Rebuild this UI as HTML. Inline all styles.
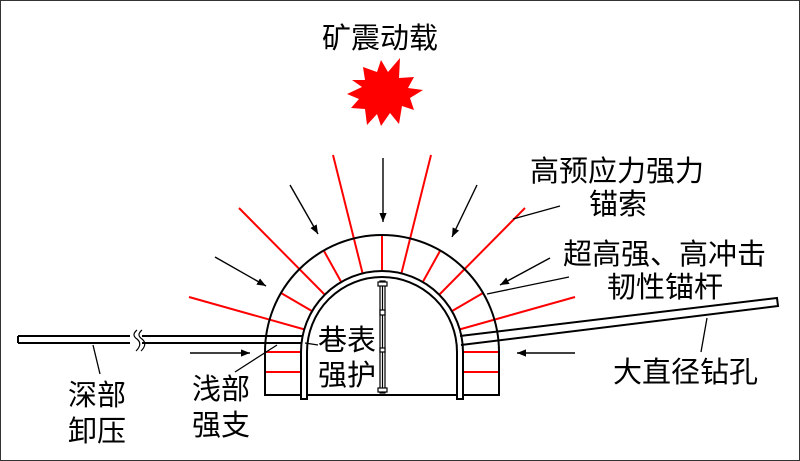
<!DOCTYPE html>
<html><head><meta charset="utf-8"><style>
html,body{margin:0;padding:0;background:#fff}
svg{display:block}
text{font-family:"Liberation Sans","Noto Sans CJK SC",sans-serif;fill:#000}
</style></head><body>
<svg width="800" height="461" viewBox="0 0 800 461" xmlns="http://www.w3.org/2000/svg">
<defs>
<marker id="a" viewBox="0 0 10 10" refX="10" refY="5" markerWidth="9" markerHeight="9" orient="auto" markerUnits="userSpaceOnUse">
<path d="M0,1 L10,5 L0,9 Z" fill="#000"/></marker>
</defs>
<rect x="0.5" y="0.5" width="799" height="460" fill="#fff" stroke="#333" stroke-width="1"/>
<text x="380" y="48" font-size="29" text-anchor="middle">矿震动载</text>
<polygon fill="#f00" points="363,67 377,72 381,60 388,72 400,58 399,78 414,77 408,88 423,90 410,98 414,110 402,106 399,124 390,113 381,126 377,114 367,125 365,109 351,108 359,99 347,94 362,87 352,80 365,80" />
<g stroke="#f00" stroke-width="2">
<line x1="382" y1="277" x2="382" y2="235"/>
<line x1="344" y1="287" x2="324" y2="251"/>
<line x1="420" y1="287" x2="440" y2="251"/>
<line x1="317" y1="314" x2="281" y2="293"/>
<line x1="447" y1="314" x2="483" y2="293"/>
<line x1="364" y1="279" x2="333" y2="155"/>
<line x1="400" y1="279" x2="431" y2="155"/>
<line x1="329" y1="299" x2="239" y2="208"/>
<line x1="435" y1="299" x2="525" y2="208"/>
<line x1="310" y1="331" x2="189" y2="297"/>
<line x1="454" y1="331" x2="575" y2="297"/>
<line x1="265" y1="352" x2="302" y2="352"/>
<line x1="265" y1="372" x2="302" y2="372"/>
<line x1="462" y1="352" x2="499" y2="352"/>
<line x1="462" y1="372" x2="499" y2="372"/>
</g>
<g fill="none" stroke="#000" stroke-width="2">
<path d="M265,395 L265,352 A117,117 0 0 1 499,352 L499,395 Z"/>
<path d="M301,399 L301,352 A81,81 0 0 1 463,352 L463,399 L457,399 L457,352 A75,75 0 0 0 307,352 L307,399 Z" fill="#fff"/>
<path d="M18,336 L303,336 M18,343 L302,343 M18,336 L18,343"/>
<path d="M460,336 L777,298 L778,306 L461,345"/>
</g>
<rect x="130" y="334" width="12" height="11" fill="#fff"/>
<path d="M137,330 q-6,5 0,9 q6,5 -1,12 M142,330 q-6,5 0,9 q6,5 -1,12" fill="none" stroke="#000" stroke-width="1.2"/>
<g stroke="#000" fill="#fff" stroke-width="1.2">
<rect x="380" y="281" width="5" height="112"/>
<line x1="382.5" y1="281" x2="382.5" y2="393"/>
<rect x="378" y="282" width="9" height="4"/>
<rect x="378" y="388" width="9" height="4"/>
<rect x="380" y="310" width="5" height="5"/>
<rect x="380" y="348" width="5" height="4"/>
</g>
<g stroke="#000" stroke-width="1.4" marker-end="url(#a)">
<line x1="383" y1="158" x2="383" y2="222"/>
<line x1="290" y1="185" x2="318" y2="234"/>
<line x1="477" y1="185" x2="452" y2="237"/>
<line x1="215" y1="257" x2="266" y2="286"/>
<line x1="550" y1="258" x2="500" y2="285"/>
<line x1="190" y1="353" x2="250" y2="353"/>
<line x1="575" y1="353" x2="517" y2="353"/>
</g>
<g stroke="#000" stroke-width="1.3">
<line x1="560" y1="206" x2="513" y2="219"/>
<line x1="569" y1="277" x2="487" y2="294"/>
<line x1="707" y1="318" x2="701" y2="352"/>
<line x1="93" y1="345" x2="100" y2="374"/>
<line x1="277" y1="345" x2="235" y2="372"/>
<line x1="305" y1="343" x2="318" y2="345"/>
</g>
<g font-size="29">
<text x="530" y="181">高预应力强力</text>
<text x="589" y="214">锚索</text>
<text x="563" y="264">超高强、高冲击</text>
<text x="607" y="297">韧性锚杆</text>
<text x="613" y="382">大直径钻孔</text>
<text x="68" y="405">深部</text>
<text x="68" y="441">卸压</text>
<text x="192" y="399">浅部</text>
<text x="192" y="435">强支</text>
<text x="318" y="350">巷表</text>
<text x="318" y="385">强护</text>
</g>
</svg>
</body></html>
